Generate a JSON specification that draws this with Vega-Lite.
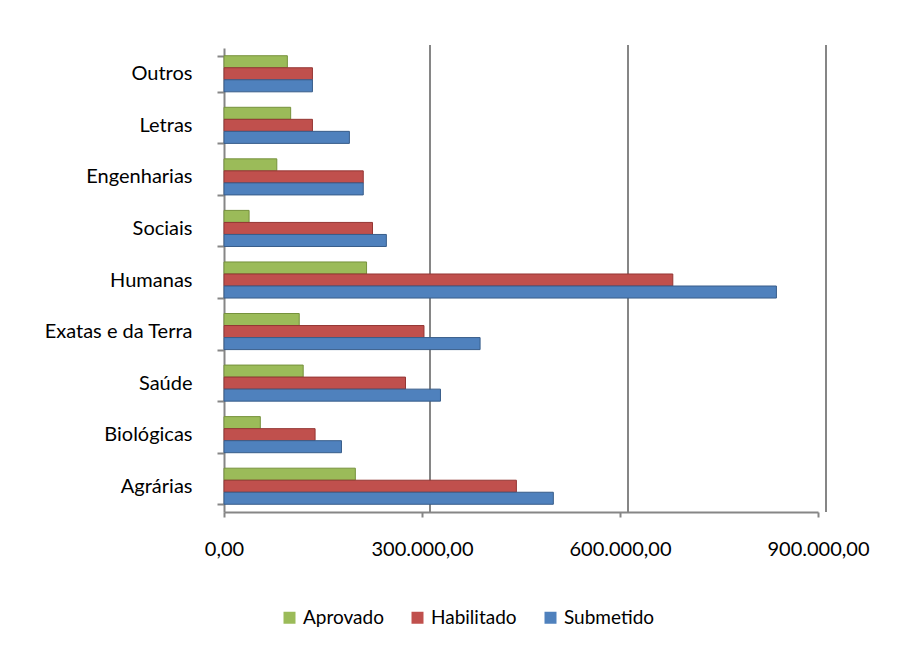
{
  "$schema": "https://vega.github.io/schema/vega-lite/v6.json",
  "width": 594,
  "height": 464,
  "autosize": {"type": "none"},
  "padding": {"left": 224, "top": 48, "right": 88, "bottom": 136},
  "background": "white",
  "config": {
    "locale": {"number": {"decimal": ",", "thousands": ".", "grouping": [3], "currency": ["R$", ""]}},
    "view": {"stroke": null},
    "font": "Lato",
    "axis": {
      "domainColor": "#868686", "domainWidth": 2,
      "tickColor": "#868686", "tickWidth": 2,
      "gridColor": "#868686", "gridWidth": 2,
      "labelColor": "#000000", "labelFont": "Lato", "labelFontSize": 20, "title": null
    }
  },
  "datasets": {
    "valores": [
      {"area": "Outros", "status": "Aprovado", "valor": 96000},
      {"area": "Outros", "status": "Habilitado", "valor": 134000},
      {"area": "Outros", "status": "Submetido", "valor": 134000},
      {"area": "Letras", "status": "Aprovado", "valor": 101000},
      {"area": "Letras", "status": "Habilitado", "valor": 134000},
      {"area": "Letras", "status": "Submetido", "valor": 190000},
      {"area": "Engenharias", "status": "Aprovado", "valor": 80000},
      {"area": "Engenharias", "status": "Habilitado", "valor": 211000},
      {"area": "Engenharias", "status": "Submetido", "valor": 211000},
      {"area": "Sociais", "status": "Aprovado", "valor": 38000},
      {"area": "Sociais", "status": "Habilitado", "valor": 225000},
      {"area": "Sociais", "status": "Submetido", "valor": 246000},
      {"area": "Humanas", "status": "Aprovado", "valor": 216000},
      {"area": "Humanas", "status": "Habilitado", "valor": 680000},
      {"area": "Humanas", "status": "Submetido", "valor": 837000},
      {"area": "Exatas e da Terra", "status": "Aprovado", "valor": 114000},
      {"area": "Exatas e da Terra", "status": "Habilitado", "valor": 303000},
      {"area": "Exatas e da Terra", "status": "Submetido", "valor": 388000},
      {"area": "Saúde", "status": "Aprovado", "valor": 120000},
      {"area": "Saúde", "status": "Habilitado", "valor": 275000},
      {"area": "Saúde", "status": "Submetido", "valor": 328000},
      {"area": "Biológicas", "status": "Aprovado", "valor": 55000},
      {"area": "Biológicas", "status": "Habilitado", "valor": 138000},
      {"area": "Biológicas", "status": "Submetido", "valor": 178000},
      {"area": "Agrárias", "status": "Aprovado", "valor": 199000},
      {"area": "Agrárias", "status": "Habilitado", "valor": 443000},
      {"area": "Agrárias", "status": "Submetido", "valor": 499000}
    ],
    "grade": [
      {"valor": 300000},
      {"valor": 600000},
      {"valor": 900000}
    ]
  },
  "layer": [
    {
      "data": {"name": "grade"},
      "mark": {"type": "rule", "color": "#868686", "strokeWidth": 2, "xOffset": 8, "yOffset": -3},
      "encoding": {
        "x": {"field": "valor", "type": "quantitative"}
      }
    },
    {
      "data": {"name": "valores"},
      "mark": {"type": "bar", "strokeWidth": 1},
      "encoding": {
        "y": {
          "field": "area", "type": "nominal",
          "sort": ["Outros", "Letras", "Engenharias", "Sociais", "Humanas", "Exatas e da Terra", "Saúde", "Biológicas", "Agrárias"],
          "scale": {"paddingInner": 0.3, "paddingOuter": 0.15},
          "axis": {"tickBand": "extent", "tickSize": 7, "labelPadding": 25, "grid": false}
        },
        "yOffset": {
          "field": "status", "type": "nominal",
          "sort": ["Aprovado", "Habilitado", "Submetido"],
          "scale": {"paddingInner": 0, "paddingOuter": 0}
        },
        "x": {
          "field": "valor", "type": "quantitative",
          "scale": {"domain": [0, 900000], "nice": false},
          "axis": {"values": [0, 300000, 600000, 900000], "format": ",.2f", "tickSize": 5, "labelPadding": 22, "grid": false, "labelFlush": false}
        },
        "color": {
          "field": "status", "type": "nominal",
          "scale": {"domain": ["Aprovado", "Habilitado", "Submetido"], "range": ["#9BBB59", "#C0504D", "#4F81BD"]},
          "legend": {
            "orient": "none", "legendX": 56, "legendY": 560, "direction": "horizontal", "title": null,
            "symbolType": "square", "symbolSize": 144, "symbolStrokeWidth": 0,
            "labelFont": "Lato", "labelFontSize": 19, "labelColor": "#000000", "labelOffset": 4, "columnPadding": 24
          }
        },
        "stroke": {
          "field": "status", "type": "nominal",
          "scale": {"domain": ["Aprovado", "Habilitado", "Submetido"], "range": ["#76923C", "#943634", "#385D8A"]},
          "legend": null
        }
      }
    }
  ]
}
